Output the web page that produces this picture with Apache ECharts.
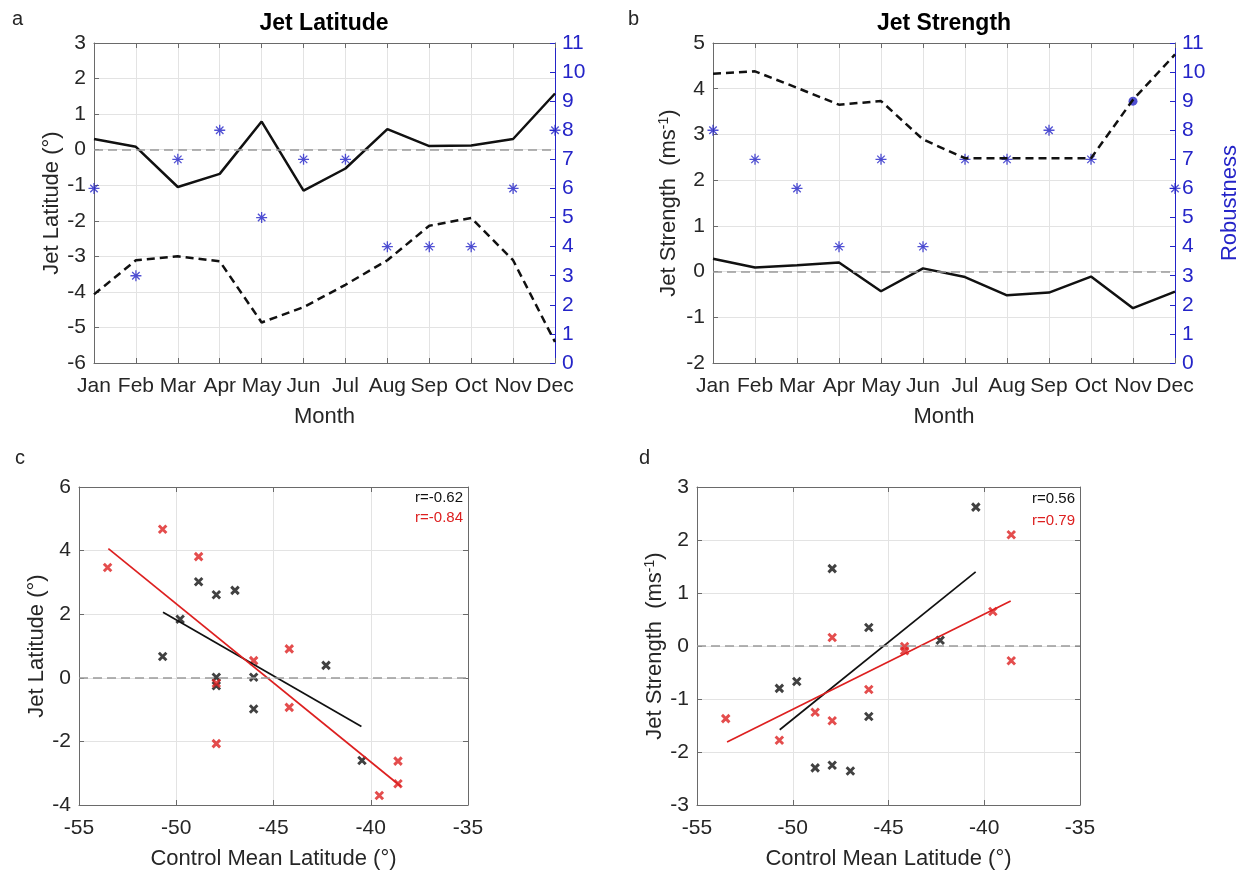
<!DOCTYPE html>
<html>
<head>
<meta charset="utf-8">
<title>Jet Latitude / Jet Strength</title>
<script src="https://cdn.jsdelivr.net/npm/echarts@6.0.0/dist/echarts.min.js"></script>
<style>
  html, body { margin: 0; padding: 0; background: #fff; }
  #chart { width: 1250px; height: 877px; }
</style>
</head>
<body>
<div id="chart"></div>
<script>
// ---- data ----
const months = ['Jan', 'Feb', 'Mar', 'Apr', 'May', 'Jun', 'Jul', 'Aug', 'Sep', 'Oct', 'Nov', 'Dec'];

// panel a
const latSolid = [0.3, 0.08, -1.05, -0.68, 0.79, -1.15, -0.53, 0.58, 0.1, 0.12, 0.3, 1.58];
const latDashed = [-4.07, -3.11, -3.0, -3.14, -4.86, -4.43, -3.8, -3.11, -2.14, -1.92, -3.11, -5.41];
const robustA = [6, 3, 7, 8, 5, 7, 7, 4, 4, 4, 6, 8];

// panel b
const strSolid = [0.28, 0.09, 0.14, 0.2, -0.43, 0.07, -0.12, -0.52, -0.46, -0.11, -0.8, -0.44];
const strDashed = [4.33, 4.38, 4.02, 3.65, 3.73, 2.89, 2.48, 2.48, 2.48, 2.48, 3.76, 4.75];
const robustB = [8, 7, 6, 4, 7, 4, 7, 7, 8, 7, 9, 6];
const robustBDotMonth = 'Nov'; // drawn as a filled dot instead of a star

// panel c  [control mean latitude, jet latitude]
const cBlack = [[-50.7, 0.67], [-49.8, 1.84], [-48.85, 3.02], [-47.94, 2.61], [-46.98, 2.75],
  [-47.94, 0.02], [-47.94, -0.25], [-46.02, 0.02], [-46.02, -0.98], [-42.3, 0.39], [-40.45, -2.6]];
const cRed = [[-53.53, 3.47], [-50.7, 4.67], [-48.85, 3.81], [-47.94, -0.17], [-47.94, -2.07],
  [-46.02, 0.54], [-44.19, 0.91], [-44.19, -0.93], [-39.56, -3.7], [-38.6, -2.62], [-38.6, -3.33]];
const cBlackFit = [[-50.68, 2.06], [-40.48, -1.53]];
const cRedFit = [[-53.49, 4.06], [-38.46, -3.41]];
const cR = ['r=-0.62', 'r=-0.84'];

// panel d  [control mean latitude, jet strength]
const dBlack = [[-40.44, 2.62], [-47.94, 1.46], [-46.03, 0.35], [-42.3, 0.11], [-50.7, -0.8],
  [-49.79, -0.67], [-46.03, -1.33], [-48.83, -2.3], [-47.94, -2.25], [-46.99, -2.36]];
const dRed = [[-38.59, 2.1], [-47.94, 0.16], [-39.55, 0.65], [-44.16, -0.01], [-44.16, -0.09],
  [-38.59, -0.28], [-46.03, -0.82], [-48.83, -1.25], [-47.94, -1.41], [-53.5, -1.37], [-50.7, -1.78]];
const dBlackFit = [[-50.68, -1.58], [-40.45, 1.40]];
const dRedFit = [[-53.43, -1.81], [-38.62, 0.85]];
const dR = ['r=0.56', 'r=0.79'];

// ---- styles ----
const FONT = '"Liberation Sans", Arial, Helvetica, sans-serif';
const TXT = '#262626';
const AX = '#6a6a6a';
const GRID = '#e3e3e3';
const BLUE = '#2424c8';
const RED = '#dd2020';
const LINE = '#111';
const STAR = 'path://M5,0L5,10M0,5L10,5M1.6,1.6L8.4,8.4M1.6,8.4L8.4,1.6';
const CROSS = 'path://M0,0L10,10M0,10L10,0';

const tickText = { fontFamily: FONT, fontSize: 21, color: TXT };
const nameText = { fontFamily: FONT, fontSize: 22, color: TXT };

function monthAxes(gi) {
  return [{
    type: 'category', gridIndex: gi, data: months, boundaryGap: false,
    name: 'Month', nameLocation: 'middle', nameGap: 43, nameTextStyle: nameText,
    axisLine: { onZero: false, lineStyle: { color: AX } },
    axisTick: { inside: true, length: 5, lineStyle: { color: AX } },
    axisLabel: Object.assign({ interval: 0, margin: 13 }, tickText),
    splitLine: { show: true, lineStyle: { color: GRID } }
  }, {
    type: 'category', gridIndex: gi, position: 'top', data: months, boundaryGap: false,
    axisLine: { onZero: false, lineStyle: { color: AX } },
    axisTick: { inside: true, length: 5, lineStyle: { color: AX } },
    axisLabel: { show: false }, splitLine: { show: false }
  }];
}

function latAxes(gi, xName) {
  return [{
    type: 'value', gridIndex: gi, min: -55, max: -35, interval: 5,
    name: xName, nameLocation: 'middle', nameGap: 43, nameTextStyle: nameText,
    axisLine: { onZero: false, lineStyle: { color: AX } },
    axisTick: { inside: true, length: 5, lineStyle: { color: AX } },
    axisLabel: Object.assign({ margin: 13 }, tickText),
    splitLine: { show: true, lineStyle: { color: GRID } }
  }, {
    type: 'value', gridIndex: gi, position: 'top', min: -55, max: -35, interval: 5,
    axisLine: { onZero: false, lineStyle: { color: AX } },
    axisTick: { inside: true, length: 5, lineStyle: { color: AX } },
    axisLabel: { show: false }, splitLine: { show: false }
  }];
}

function leftAxis(gi, min, max, interval, name, gap, extra) {
  return Object.assign({
    type: 'value', gridIndex: gi, min: min, max: max, interval: interval,
    name: name, nameLocation: 'middle', nameGap: gap, nameTextStyle: nameText,
    axisLine: { show: true, onZero: false, lineStyle: { color: AX } },
    axisTick: { show: true, inside: true, length: 5, lineStyle: { color: AX } },
    axisLabel: Object.assign({ margin: 8 }, tickText),
    splitLine: { show: true, lineStyle: { color: GRID } }
  }, extra || {});
}

function robustAxis(gi, name) {
  return {
    type: 'value', gridIndex: gi, position: 'right', min: 0, max: 11, interval: 1,
    name: name, nameLocation: 'middle', nameGap: 44,
    nameTextStyle: Object.assign({}, nameText, { color: BLUE }),
    axisLine: { show: true, onZero: false, lineStyle: { color: BLUE } },
    axisTick: { show: true, inside: true, length: 5, lineStyle: { color: BLUE } },
    axisLabel: Object.assign({ margin: 7 }, tickText, { color: BLUE }),
    splitLine: { show: false }
  };
}

function boxRight(gi, min, max, interval) {
  return {
    type: 'value', gridIndex: gi, position: 'right', min: min, max: max, interval: interval,
    axisLine: { show: true, onZero: false, lineStyle: { color: AX } },
    axisTick: { show: true, inside: true, length: 5, lineStyle: { color: AX } },
    axisLabel: { show: false }, splitLine: { show: false }
  };
}

const zeroLine = {
  silent: true, symbol: ['none', 'none'], label: { show: false },
  lineStyle: { color: '#9a9a9a', type: [9, 5], width: 1.5 },
  data: [{ yAxis: 0 }]
};

function monthLine(xi, yi, data, dashed, withZero) {
  const s = {
    type: 'line', xAxisIndex: xi, yAxisIndex: yi, data: data,
    symbol: 'none', silent: true,
    lineStyle: { color: LINE, width: 2.5, type: dashed ? [8, 5] : 'solid' }
  };
  if (withZero) s.markLine = zeroLine;
  return s;
}

function stars(xi, yi, data) {
  return {
    type: 'scatter', xAxisIndex: xi, yAxisIndex: yi, data: data, clip: false,
    symbol: STAR, symbolSize: 11, silent: true,
    itemStyle: { color: 'transparent', borderColor: BLUE, borderWidth: 1.3 }
  };
}

function crosses(xi, yi, data, color) {
  return {
    type: 'scatter', xAxisIndex: xi, yAxisIndex: yi, data: data, clip: false,
    symbol: CROSS, symbolSize: 7.5, silent: true,
    itemStyle: { color: 'transparent', borderColor: color, borderWidth: 2.9 }
  };
}

function fitLine(xi, yi, data, color) {
  return {
    type: 'line', xAxisIndex: xi, yAxisIndex: yi, data: data, symbol: 'none', silent: true,
    lineStyle: { color: color, width: 1.7 }
  };
}

const robustBData = robustB.map(function (v, i) {
  if (months[i] === robustBDotMonth) {
    return { value: v, symbol: 'circle', symbolSize: 9, itemStyle: { color: BLUE, borderWidth: 0 } };
  }
  return v;
});

function txt(x, y, text, opts) {
  return {
    type: 'text', x: x, y: y, silent: true,
    style: Object.assign({ text: text, fill: TXT, font: '20px ' + FONT, textAlign: 'left', textVerticalAlign: 'middle' }, opts || {})
  };
}

const supRich = Object.assign({}, nameText, {
  rich: { sup: { fontFamily: FONT, fontSize: 14, color: TXT, verticalAlign: 'top', padding: [0, 0, 10, 0] } }
});

const chart = echarts.init(document.getElementById('chart'));
chart.setOption({
  backgroundColor: '#fff',
  animation: false,
  grid: [
    { left: 94, top: 43, width: 461, height: 320 },
    { left: 713, top: 43, width: 462, height: 320 },
    { left: 79, top: 487, width: 389, height: 318 },
    { left: 697, top: 487, width: 383, height: 318 }
  ],
  xAxis: [].concat(
    monthAxes(0),
    monthAxes(1),
    latAxes(2, 'Control Mean Latitude (°)'),
    latAxes(3, 'Control Mean Latitude (°)')
  ),
  yAxis: [
    leftAxis(0, -6, 3, 1, 'Jet Latitude (°)', 30),
    robustAxis(0, ''),
    leftAxis(1, -2, 5, 1, 'Jet Strength  (ms{sup|-1})', 32, { nameTextStyle: supRich }),
    robustAxis(1, 'Robustness'),
    leftAxis(2, -4, 6, 2, 'Jet Latitude (°)', 28),
    boxRight(2, -4, 6, 2),
    leftAxis(3, -3, 3, 1, 'Jet Strength  (ms{sup|-1})', 27, { nameTextStyle: supRich }),
    boxRight(3, -3, 3, 1)
  ],
  series: [
    // a
    monthLine(0, 0, latSolid, false, true),
    monthLine(0, 0, latDashed, true, false),
    stars(0, 1, robustA),
    // b
    monthLine(2, 2, strSolid, false, true),
    monthLine(2, 2, strDashed, true, false),
    stars(2, 3, robustBData),
    // c
    Object.assign(crosses(4, 4, cBlack, LINE), { markLine: zeroLine }),
    crosses(4, 4, cRed, RED),
    fitLine(4, 4, cBlackFit, LINE),
    fitLine(4, 4, cRedFit, RED),
    // d
    Object.assign(crosses(6, 6, dBlack, LINE), { markLine: zeroLine }),
    crosses(6, 6, dRed, RED),
    fitLine(6, 6, dBlackFit, LINE),
    fitLine(6, 6, dRedFit, RED)
  ],
  graphic: [
    txt(12, 19, 'a'),
    txt(628, 19, 'b'),
    txt(15, 458, 'c'),
    txt(639, 458, 'd'),
    txt(324, 24, 'Jet Latitude', { font: 'bold 23px ' + FONT, textAlign: 'center', fill: '#000' }),
    txt(944, 24, 'Jet Strength', { font: 'bold 23px ' + FONT, textAlign: 'center', fill: '#000' }),
    txt(463, 498, cR[0], { font: '15px ' + FONT, textAlign: 'right', fill: '#111' }),
    txt(463, 518, cR[1], { font: '15px ' + FONT, textAlign: 'right', fill: RED }),
    txt(1075, 499, dR[0], { font: '15px ' + FONT, textAlign: 'right', fill: '#111' }),
    txt(1075, 521, dR[1], { font: '15px ' + FONT, textAlign: 'right', fill: RED })
  ]
});
</script>
</body>
</html>
